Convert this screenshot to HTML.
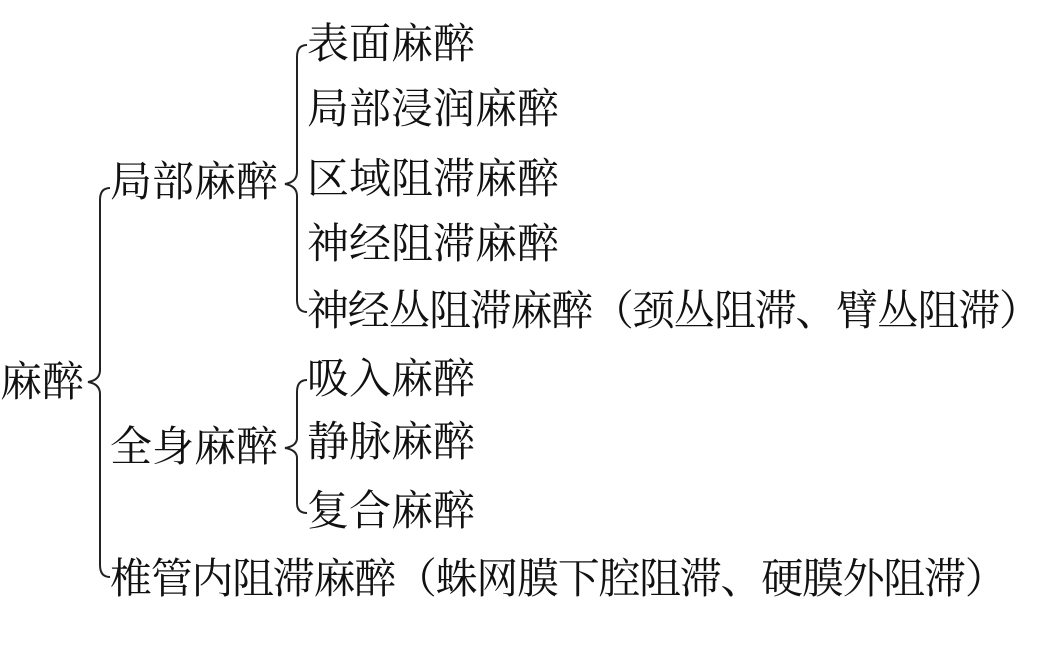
<!DOCTYPE html>
<html><head><meta charset="utf-8"><style>
html,body{margin:0;padding:0;background:#fff;width:1058px;height:649px;overflow:hidden}
.t{position:absolute;font-family:"Liberation Serif","Noto Serif CJK SC",serif;font-size:42px;line-height:1;color:#111;white-space:nowrap;transform:translateY(-50%)}
.l{letter-spacing:-1.3px}
svg{position:absolute;left:0;top:0}
</style></head><body>
<svg width="1058" height="649" fill="none" stroke="#222" stroke-width="2">
<path d="M110,188 Q100,188 100,200 L100,370 Q100,380 88,382 Q100,384 100,394 L100,565 Q100,577 110,577"/>
<path d="M307,45 Q297,45 297,57 L297,172 Q297,182 285,184 Q297,186 297,196 L297,300 Q297,312 307,312"/>
<path d="M307,380 Q297,380 297,392 L297,438 Q297,446 285,448 Q297,450 297,458 L297,503 Q297,513 307,513"/>
</svg>
<div class="t" style="left:0;top:383px">麻醉</div>
<div class="t" style="left:110px;top:183px">局部麻醉</div>
<div class="t" style="left:110px;top:448px">全身麻醉</div>
<div class="t l" style="left:110px;top:580px">椎管内阻滞麻醉（蛛网膜下腔阻滞、硬膜外阻滞）</div>
<div class="t" style="left:307px;top:45px">表面麻醉</div>
<div class="t" style="left:307px;top:110px">局部浸润麻醉</div>
<div class="t" style="left:307px;top:180px">区域阻滞麻醉</div>
<div class="t" style="left:307px;top:245px">神经阻滞麻醉</div>
<div class="t l" style="left:307px;top:312px">神经丛阻滞麻醉（颈丛阻滞、臂丛阻滞）</div>
<div class="t" style="left:307px;top:380px">吸入麻醉</div>
<div class="t" style="left:307px;top:443px">静脉麻醉</div>
<div class="t" style="left:307px;top:512px">复合麻醉</div>
</body></html>
